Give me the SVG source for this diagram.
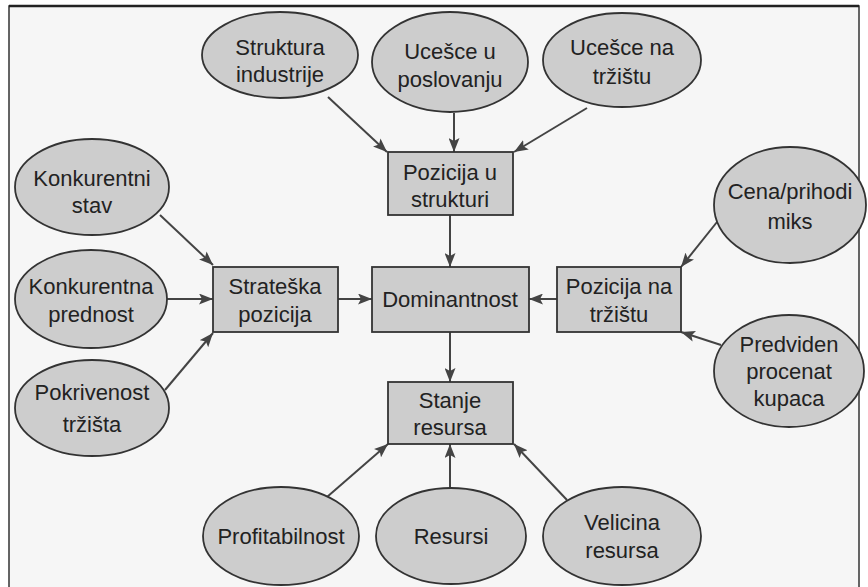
<svg xmlns="http://www.w3.org/2000/svg" width="868" height="587" viewBox="0 0 868 587">
<style>
.n ellipse,.n rect{fill:#cdcdcd;stroke:#333;stroke-width:1.8}
text{font-family:"Liberation Sans",Arial,sans-serif;font-size:22px;fill:#222;text-anchor:middle}
.c line{stroke:#444;stroke-width:2;marker-end:url(#ah)}
</style>
<defs>
<marker id="ah" viewBox="0 0 14 11" refX="14" refY="5.5" markerWidth="14" markerHeight="11" markerUnits="userSpaceOnUse" orient="auto">
<path d="M0,0 L14,5.5 L0,11 L3,5.5 Z" fill="#444"/>
</marker>
</defs>
<rect x="0" y="0" width="868" height="587" fill="#ffffff"/>
<rect x="9" y="6" width="850" height="600" fill="#f6f6f6" stroke="#333" stroke-width="1.5"/>
<line x1="9" y1="6" x2="859" y2="6" stroke="#222" stroke-width="2.5"/>
<g class="c" id="connectors">
<line x1="328" y1="97" x2="387" y2="152"/>
<line x1="454" y1="113" x2="454" y2="152"/>
<line x1="587" y1="108" x2="514" y2="152"/>
<line x1="450" y1="215" x2="450" y2="267"/>
<line x1="160" y1="215" x2="213" y2="265"/>
<line x1="167" y1="299" x2="213" y2="299"/>
<line x1="165" y1="390" x2="213" y2="333"/>
<line x1="338" y1="299" x2="372" y2="299"/>
<line x1="557" y1="299" x2="529" y2="299"/>
<line x1="717" y1="222" x2="681" y2="267"/>
<line x1="721" y1="345" x2="681" y2="332"/>
<line x1="450" y1="332" x2="450" y2="382"/>
<line x1="327" y1="497" x2="388" y2="444"/>
<line x1="450" y1="488" x2="450" y2="444"/>
<line x1="567" y1="500" x2="514" y2="444"/>
</g>
<g class="n" id="struktura-industrije"><ellipse cx="280" cy="55" rx="78" ry="43"/><text x="280" y="55">Struktura</text><text x="280" y="82">industrije</text></g>
<g class="n" id="ucesce-u-poslovanju"><ellipse cx="450" cy="62" rx="78" ry="50"/><text x="450" y="59">Ucešce u</text><text x="450" y="87">poslovanju</text></g>
<g class="n" id="ucesce-na-trzistu"><ellipse cx="622" cy="60" rx="79" ry="47"/><text x="622" y="55">Ucešce na</text><text x="622" y="84">tržištu</text></g>
<g class="n" id="pozicija-u-strukturi"><rect x="388" y="152" width="125" height="63"/><text x="450" y="180">Pozicija u</text><text x="450" y="207">strukturi</text></g>
<g class="n" id="konkurentni-stav"><ellipse cx="92" cy="187" rx="77" ry="48"/><text x="92" y="186">Konkurentni</text><text x="92" y="213">stav</text></g>
<g class="n" id="konkurentna-prednost"><ellipse cx="91" cy="299" rx="76" ry="49"/><text x="91" y="294">Konkurentna</text><text x="91" y="322">prednost</text></g>
<g class="n" id="pokrivenost-trzista"><ellipse cx="92" cy="408" rx="77" ry="48"/><text x="92" y="400">Pokrivenost</text><text x="92" y="432">tržišta</text></g>
<g class="n" id="strateska-pozicija"><rect x="213" y="267" width="125" height="65"/><text x="275" y="294">Strateška</text><text x="275" y="322">pozicija</text></g>
<g class="n" id="dominantnost"><rect x="372" y="267" width="157" height="65"/><text x="450" y="307">Dominantnost</text></g>
<g class="n" id="pozicija-na-trzistu"><rect x="557" y="267" width="124" height="65"/><text x="619" y="294">Pozicija na</text><text x="619" y="322">tržištu</text></g>
<g class="n" id="cena-prihodi-miks"><ellipse cx="790" cy="205" rx="76" ry="58"/><text x="790" y="199">Cena/prihodi</text><text x="790" y="229">miks</text></g>
<g class="n" id="predviden-procenat-kupaca"><ellipse cx="789" cy="371" rx="75" ry="56"/><text x="789" y="352">Predviden</text><text x="789" y="379">procenat</text><text x="789" y="406">kupaca</text></g>
<g class="n" id="stanje-resursa"><rect x="388" y="382" width="125" height="62"/><text x="450" y="408">Stanje</text><text x="450" y="435">resursa</text></g>
<g class="n" id="profitabilnost"><ellipse cx="281" cy="536" rx="78" ry="49"/><text x="281" y="544">Profitabilnost</text></g>
<g class="n" id="resursi"><ellipse cx="451" cy="536" rx="75" ry="48"/><text x="451" y="544">Resursi</text></g>
<g class="n" id="velicina-resursa"><ellipse cx="622" cy="536" rx="79" ry="49"/><text x="622" y="530">Velicina</text><text x="622" y="558">resursa</text></g>
</svg>
